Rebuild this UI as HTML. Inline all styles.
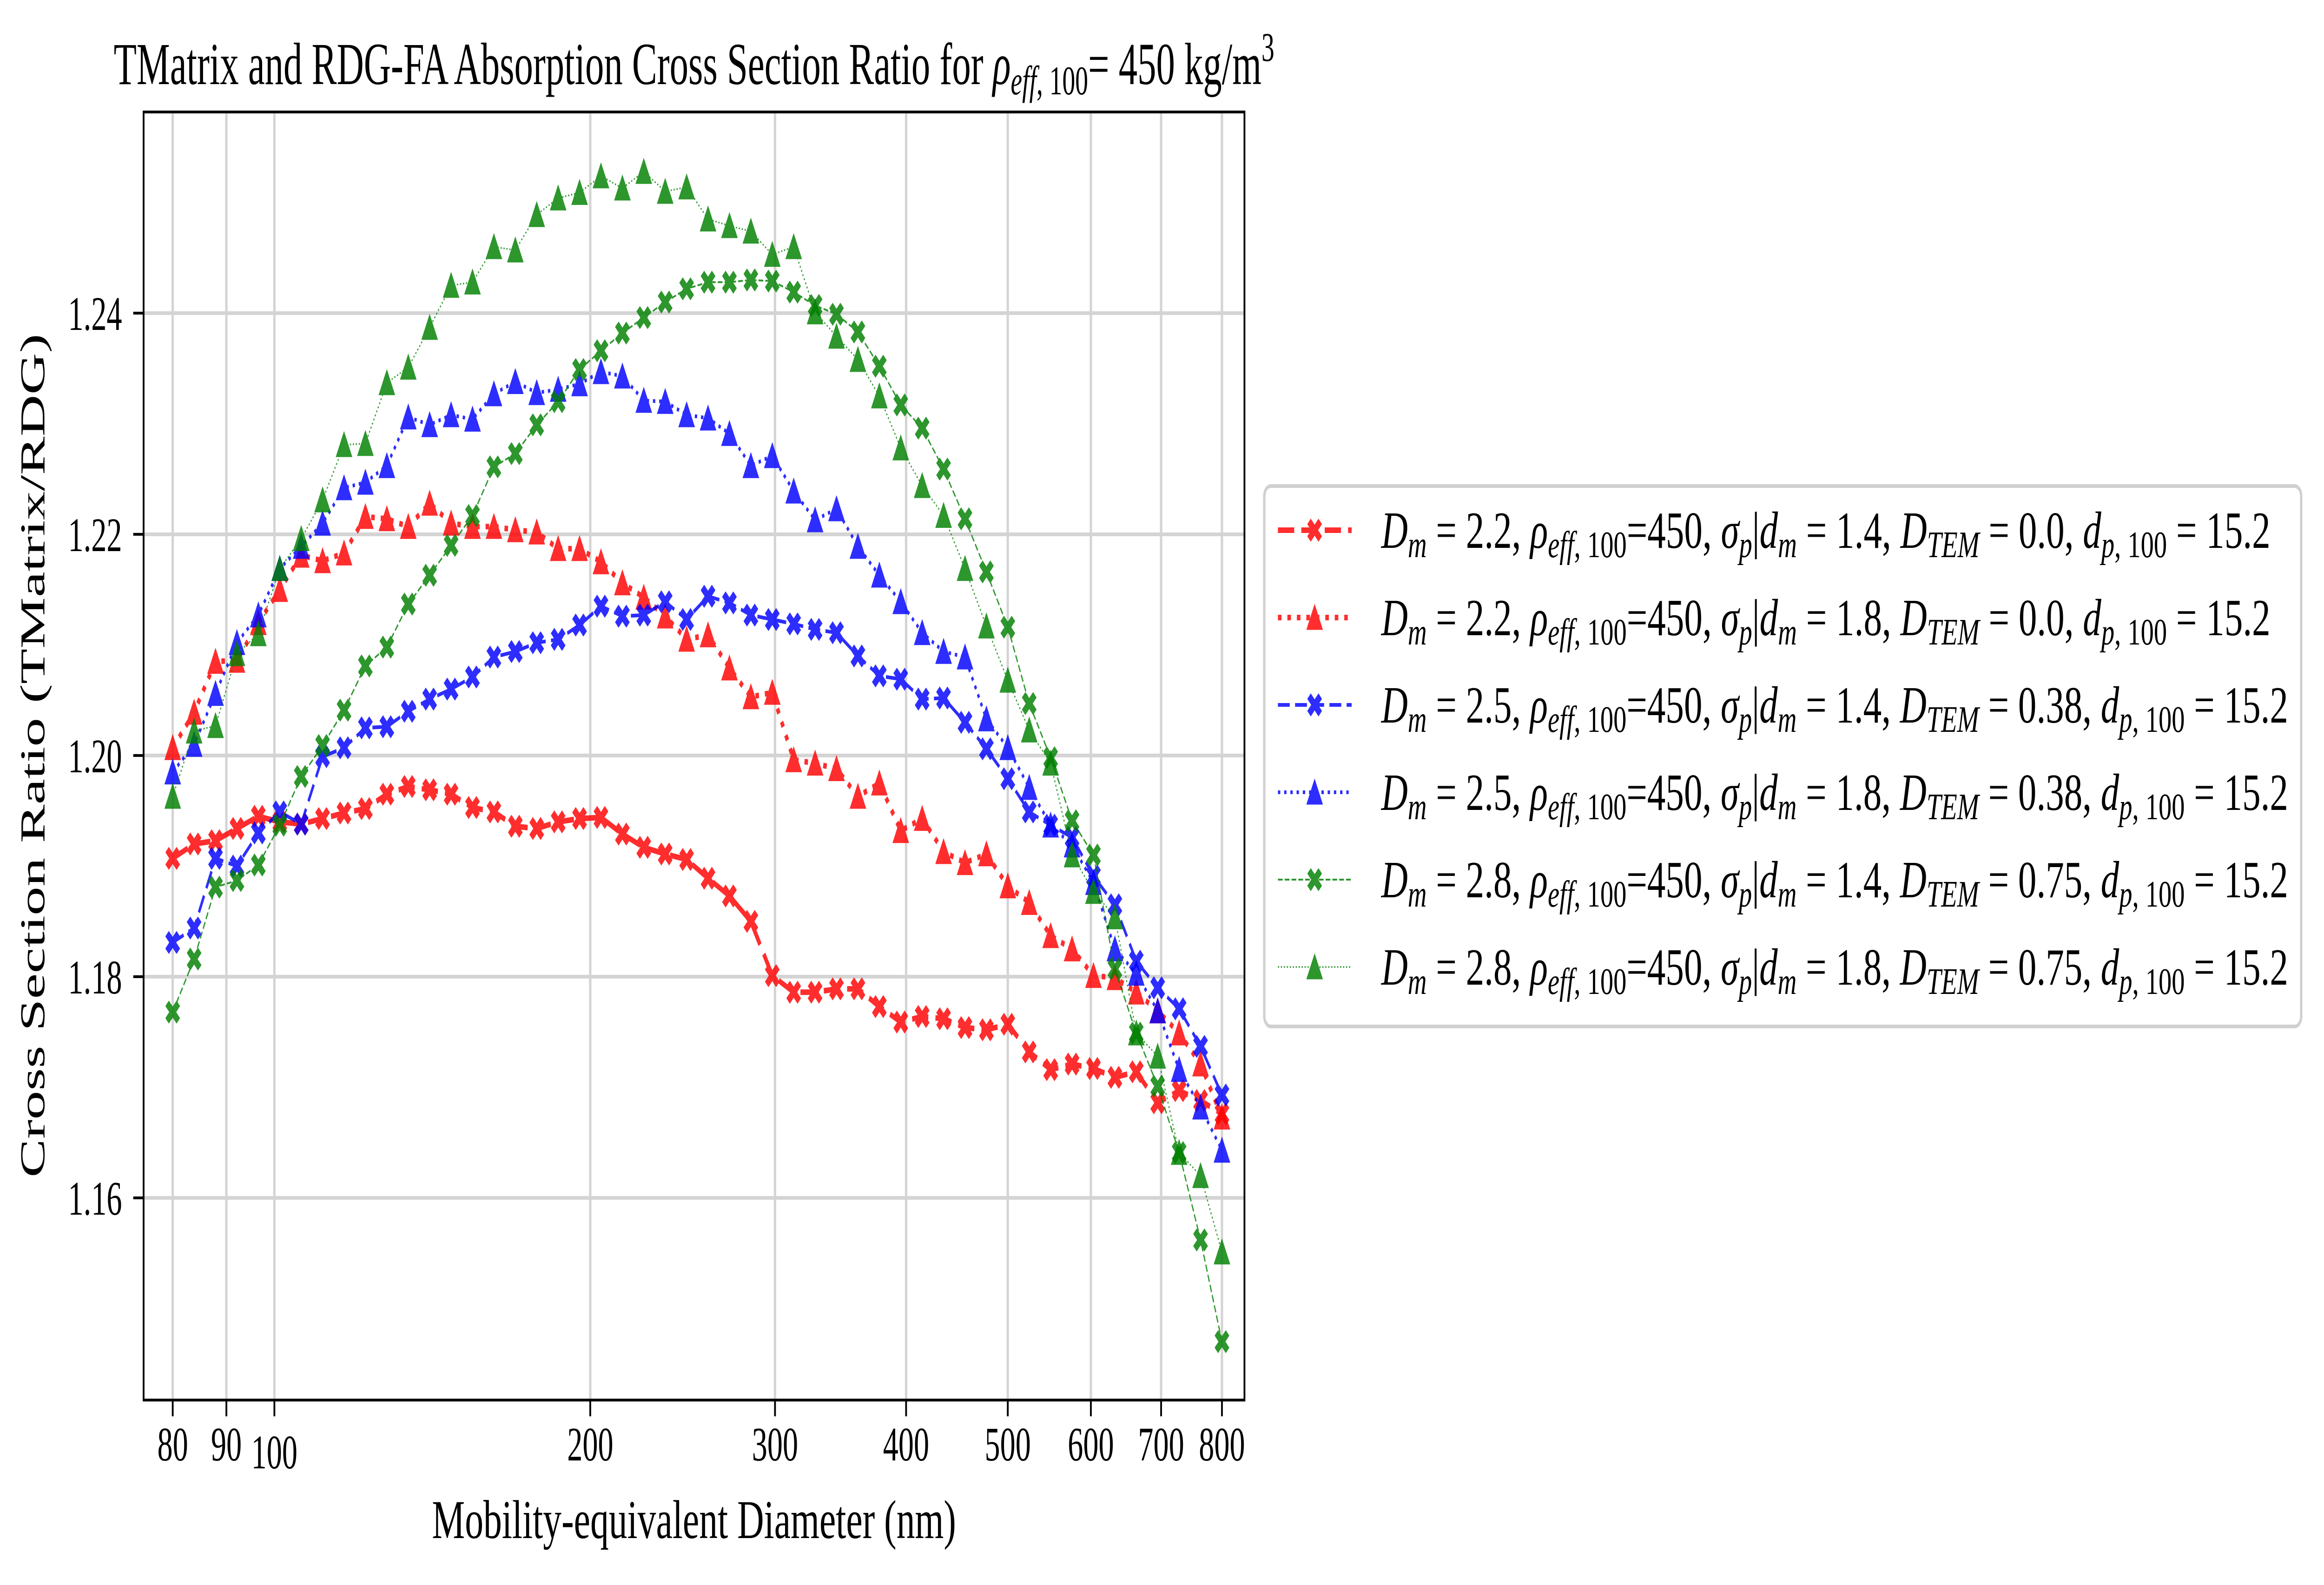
<!DOCTYPE html>
<html><head><meta charset="utf-8"><style>
html,body{margin:0;padding:0;background:#fff;width:100%;height:100%;overflow:hidden;}
svg{display:block;width:100vw;height:100vh;}
text{font-family:"Liberation Serif","DejaVu Serif",serif;}
</style></head><body>
<svg id="chart" viewBox="0 0 7849 3411" preserveAspectRatio="none" xmlns="http://www.w3.org/2000/svg">
<rect x="0" y="0" width="7849" height="3411" fill="#fff"/>
<text x="2344" y="181" font-size="128" text-anchor="middle" textLength="3920" lengthAdjust="spacingAndGlyphs">TMatrix and RDG-FA Absorption Cross Section Ratio for <tspan font-style="italic">ρ</tspan><tspan font-style="italic" font-size="88" dy="22">eff</tspan><tspan font-size="88">, 100</tspan><tspan dy="-22">= 450 kg/m</tspan><tspan font-size="88" dy="-50">3</tspan></text>
<g id="grid"></g>
<g id="series"></g>
<rect x="485" y="241" width="3718" height="2772" fill="none" stroke="#000" stroke-width="6"/>
<g id="ticks"></g>
<text x="2344" y="3310" font-size="118" text-anchor="middle" textLength="1770" lengthAdjust="spacingAndGlyphs">Mobility-equivalent Diameter (nm)</text>
<text transform="translate(150,1626) rotate(-90)" font-size="118" text-anchor="middle" textLength="1816" lengthAdjust="spacingAndGlyphs">Cross Section Ratio (TMatrix/RDG)</text>
<g id="legend">
<rect x="4270" y="1046" width="3502" height="1163" rx="22" fill="#fff" stroke="#d0d0d0" stroke-width="8"/>
</g>
</svg>
<script>
const categories = [];
for (let i = 0; i < 50; i++) categories.push(Math.round(80 * Math.pow(10, i / 49) * 100) / 100);
const xTicks = [80, 90, 100, 200, 300, 400, 500, 600, 700, 800];
const yTicks = [1.16, 1.18, 1.20, 1.22, 1.24];
const s1 = [1.1907,1.1920,1.1923,1.1934,1.1945,1.1940,1.1938,1.1943,1.1948,1.1952,1.1965,1.1972,1.1969,1.1965,1.1953,1.1949,1.1936,1.1934,1.1940,1.1943,1.1944,1.1929,1.1917,1.1911,1.1906,1.1889,1.1873,1.1850,1.1801,1.1786,1.1786,1.1789,1.1789,1.1773,1.1759,1.1764,1.1762,1.1754,1.1752,1.1757,1.1732,1.1716,1.1721,1.1717,1.1709,1.1714,1.1686,1.1697,1.1688,1.1676];
const s2 = [1.2007,1.2039,1.2085,1.2086,1.2120,1.2150,1.2181,1.2176,1.2183,1.2216,1.2214,1.2207,1.2228,1.2210,1.2207,1.2207,1.2204,1.2202,1.2187,1.2187,1.2175,1.2156,1.2143,1.2126,1.2105,1.2109,1.2079,1.2053,1.2057,1.1996,1.1993,1.1988,1.1963,1.1975,1.1932,1.1943,1.1913,1.1903,1.1911,1.1882,1.1867,1.1837,1.1825,1.1801,1.1799,1.1786,1.1769,1.1749,1.1721,1.1673];
const s3 = [1.1831,1.1844,1.1907,1.1900,1.1930,1.1949,1.1938,1.1999,1.2007,1.2025,1.2026,1.2040,1.2051,1.2060,1.2071,1.2089,1.2094,1.2102,1.2105,1.2118,1.2135,1.2126,1.2127,1.2139,1.2123,1.2144,1.2138,1.2127,1.2123,1.2119,1.2114,1.2111,1.2090,1.2072,1.2069,1.2051,1.2052,1.2030,1.2006,1.1979,1.1949,1.1937,1.1926,1.1891,1.1865,1.1814,1.1790,1.1771,1.1737,1.1693];
const s4 = [1.1985,1.2010,1.2056,1.2102,1.2127,1.2169,1.2189,1.2210,1.2242,1.2247,1.2262,1.2306,1.2299,1.2308,1.2304,1.2327,1.2338,1.2328,1.2331,1.2336,1.2347,1.2343,1.2321,1.2320,1.2308,1.2305,1.2291,1.2262,1.2271,1.2239,1.2213,1.2223,1.2189,1.2163,1.2139,1.2111,1.2094,1.2089,1.2033,1.2007,1.1971,1.1937,1.1919,1.1885,1.1825,1.1803,1.1769,1.1716,1.1682,1.1643];
const s5 = [1.1768,1.1816,1.1881,1.1887,1.1901,1.1937,1.1981,1.2009,1.2041,1.2081,1.2098,1.2137,1.2163,1.2190,1.2217,1.2261,1.2273,1.2299,1.2320,1.2349,1.2366,1.2382,1.2396,1.2410,1.2422,1.2428,1.2428,1.2430,1.2429,1.2419,1.2407,1.2399,1.2383,1.2352,1.2317,1.2296,1.2259,1.2214,1.2166,1.2116,1.2047,1.1998,1.1941,1.1910,1.1807,1.1749,1.1701,1.1641,1.1562,1.1470];
const s6 = [1.1963,1.2022,1.2027,1.2092,1.2110,1.2169,1.2196,1.2231,1.2281,1.2282,1.2337,1.2351,1.2387,1.2425,1.2428,1.2460,1.2457,1.2489,1.2504,1.2509,1.2524,1.2513,1.2528,1.2510,1.2514,1.2485,1.2479,1.2474,1.2453,1.2460,1.2401,1.2379,1.2358,1.2325,1.2278,1.2244,1.2217,1.2169,1.2117,1.2068,1.2023,1.1993,1.1910,1.1877,1.1854,1.1749,1.1728,1.1641,1.1620,1.1551];

const NS = "http://www.w3.org/2000/svg";
const L = 485, R = 4203, T = 241, B = 3013;
const xMin = Math.log10(75.05), xMax = Math.log10(840.5);
const yMin = 1.14172, yMax = 1.25819;
function xs(v) { return L + (Math.log10(v) - xMin) / (xMax - xMin) * (R - L); }
function ys(v) { return B - (v - yMin) / (yMax - yMin) * (B - T); }
function mk(tag, attrs, parent) {
  const e = document.createElementNS(NS, tag);
  for (const k in attrs) e.setAttribute(k, attrs[k]);
  parent.appendChild(e);
  return e;
}
const grid = document.getElementById('grid');
const ticks = document.getElementById('ticks');
xTicks.forEach(t => {
  const x = xs(t);
  const g = mk('line', {x1: x, x2: x, y1: T, y2: B, stroke: '#d4d4d4', 'stroke-width': 8}, grid);
  
  
  const tk = mk('line', {x1: x, x2: x, y1: B, y2: B + 35, stroke: '#000', 'stroke-width': 6}, ticks);
  
  
  const lb = mk('text', {x: x, y: t === 100 ? 3160 : 3143, 'font-size': 104, 'text-anchor': 'middle'}, ticks);
  
  
  lb.textContent = String(t);
});
yTicks.forEach(t => {
  const y = ys(t);
  const g = mk('line', {x1: L, x2: R, y1: y, y2: y, stroke: '#d4d4d4', 'stroke-width': 8}, grid);
  
  
  const tk = mk('line', {x1: L - 35, x2: L, y1: y, y2: y, stroke: '#000', 'stroke-width': 6}, ticks);
  
  
  const lb = mk('text', {x: 412, y: y + 36, 'font-size': 104, 'text-anchor': 'end'}, ticks);
  
  
  lb.textContent = t.toFixed(2);
});

function xMarker(cx, cy, h, a) {
  const p = [[-h, -h + a], [-h + a, -h], [0, -a], [h - a, -h], [h, -h + a], [a, 0], [h, h - a], [h - a, h], [0, a], [-h + a, h], [-h, h - a], [-a, 0]];
  return p.map(q => (cx + q[0]).toFixed(1) + ',' + (cy + q[1]).toFixed(1)).join(' ');
}
function triMarker(cx, cy, h) {
  return [[0, -h], [-h, h], [h, h]].map(q => (cx + q[0]).toFixed(1) + ',' + (cy + q[1]).toFixed(1)).join(' ');
}
const seriesDefs = [
  {vals: s1, color: '#ff0000', w: 12, dash: '55 24', marker: 'x', name: 'series-dm22-sigma14'},
  {vals: s2, color: '#ff0000', w: 12, dash: '12 20', marker: 't', name: 'series-dm22-sigma18'},
  {vals: s3, color: '#0000ff', w: 8, dash: '40 18', marker: 'x', name: 'series-dm25-sigma14'},
  {vals: s4, color: '#0000ff', w: 8, dash: '8 13', marker: 't', name: 'series-dm25-sigma18'},
  {vals: s5, color: '#008000', w: 4, dash: '16 7', marker: 'x', name: 'series-dm28-sigma14'},
  {vals: s6, color: '#008000', w: 3.5, dash: '4 6', marker: 't', name: 'series-dm28-sigma18'}
];
const layer = document.getElementById('series');
function drawMarker(parent, type, cx, cy, color) {
  let m;
  if (type === 'x') {
    m = mk('polygon', {points: xMarker(cx, cy, 22, 9), fill: color, stroke: color, 'stroke-width': 4}, parent);
  } else {
    m = mk('polygon', {points: triMarker(cx, cy, 24), fill: color, stroke: color, 'stroke-width': 5}, parent);
  }
  return m;
}
seriesDefs.forEach(s => {
  const g = mk('g', {opacity: 0.82}, layer);
  
  
  const pts = s.vals.map((v, i) => xs(categories[i]).toFixed(1) + ',' + ys(v).toFixed(1)).join(' ');
  const line = mk('polyline', {points: pts, fill: 'none', stroke: s.color, 'stroke-width': s.w, 'stroke-dasharray': s.dash}, g);
  
  
  s.vals.forEach((v, i) => {
    const m = drawMarker(g, s.marker, xs(categories[i]), ys(v), s.color);
    
    
  });
});

// legend
const legend = document.getElementById('legend');
const legendLabels = [
  ['2.2', '1.4', '0.0'], ['2.2', '1.8', '0.0'], ['2.5', '1.4', '0.38'],
  ['2.5', '1.8', '0.38'], ['2.8', '1.4', '0.75'], ['2.8', '1.8', '0.75']
];
seriesDefs.forEach((s, k) => {
  const cy = 1141 + k * 188;
  const g = mk('g', {}, legend);
  
  
  const hg = mk('g', {opacity: 0.82}, g);
  mk('line', {x1: 4316, x2: 4565, y1: cy, y2: cy, stroke: s.color, 'stroke-width': s.w, 'stroke-dasharray': s.dash}, hg);
  drawMarker(hg, s.marker, 4440, cy, s.color);
  const lab = legendLabels[k];
  const t = mk('text', {x: 4665, y: cy + 38, 'font-size': 112, textLength: (lab[2].length > 3 ? 3063 : 3003), lengthAdjust: 'spacingAndGlyphs'}, g);
  
  
  t.innerHTML = '<tspan font-style="italic">D</tspan><tspan font-style="italic" font-size="80" dy="20">m</tspan><tspan dy="-20"> = ' + lab[0] + ', </tspan>' +
    '<tspan font-style="italic">ρ</tspan><tspan font-style="italic" font-size="80" dy="20">eff</tspan><tspan font-size="80">, 100</tspan><tspan dy="-20">=450, </tspan>' +
    '<tspan font-style="italic">σ</tspan><tspan font-style="italic" font-size="80" dy="20">p</tspan><tspan dy="-20">|</tspan><tspan font-style="italic">d</tspan><tspan font-style="italic" font-size="80" dy="20">m</tspan><tspan dy="-20"> = ' + lab[1] + ', </tspan>' +
    '<tspan font-style="italic">D</tspan><tspan font-style="italic" font-size="80" dy="20">TEM</tspan><tspan dy="-20"> = ' + lab[2] + ', </tspan>' +
    '<tspan font-style="italic">d</tspan><tspan font-style="italic" font-size="80" dy="20">p</tspan><tspan font-size="80">, 100</tspan><tspan dy="-20"> = 15.2</tspan>';
});
</script>
</body></html>
